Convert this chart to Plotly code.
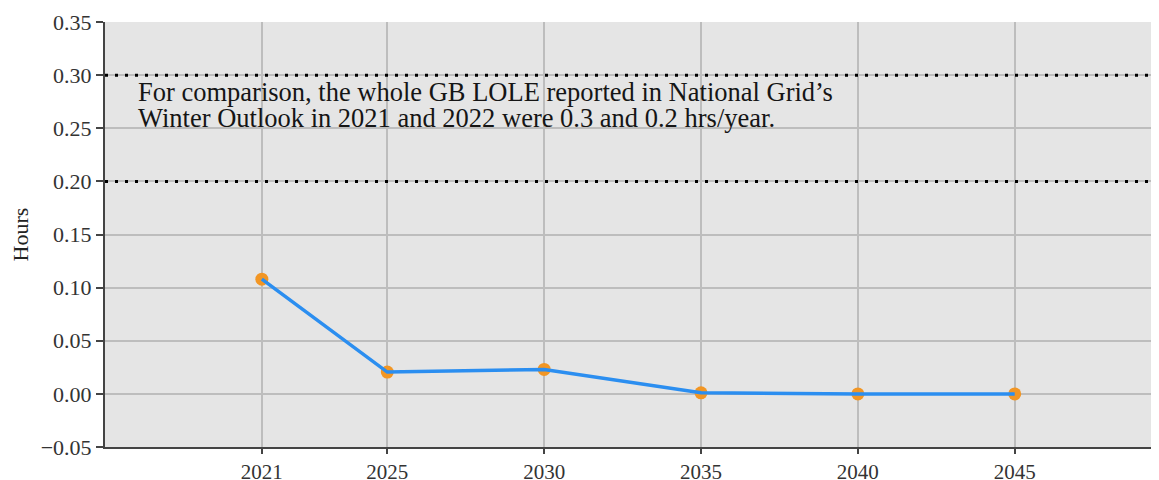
import plotly.graph_objects as go

years = [2021, 2025, 2030, 2035, 2040, 2045]
hours = [0.108, 0.0205, 0.023, 0.001, 0.0, 0.0]
ref_levels = [0.3, 0.2]
y_ticks = [-0.05, 0.0, 0.05, 0.10, 0.15, 0.20, 0.25, 0.30, 0.35]
note_lines = ["For comparison, the whole GB LOLE reported in National Grid\u2019s",
              "Winter Outlook in 2021 and 2022 were 0.3 and 0.2 hrs/year."]
note_y = [0.2841, 0.2596]
x_range = [2016, 2049.6]

FONT = "Liberation Serif"
fig = go.Figure()

for lv in ref_levels:
    fig.add_trace(go.Scatter(x=x_range, y=[lv, lv], mode="lines",
                             line=dict(color="black", width=3, dash="3px,7px"),
                             hoverinfo="skip", showlegend=False))

fig.add_trace(go.Scatter(x=years, y=hours, mode="markers",
                         marker=dict(color="#f29624", size=13),
                         showlegend=False))
fig.add_trace(go.Scatter(x=years, y=hours, mode="lines",
                         line=dict(color="#2b8ef0", width=3.5),
                         showlegend=False))

for txt, yy in zip(note_lines, note_y):
    fig.add_annotation(x=0.0295, y=yy, xref="paper", yref="y", text=txt,
                       showarrow=False, xanchor="left", yanchor="middle", align="left",
                       font=dict(family=FONT, size=26.5, color="#151515"))

# page body has an 8px margin: size the figure to fit the window
fig.update_layout(
    width=1151, height=472,
    margin=dict(l=97, r=0, t=14, b=33),
    paper_bgcolor="white", plot_bgcolor="#e5e5e5",
    font=dict(family=FONT, size=22, color="#333"),
    showlegend=False,
)
fig.update_xaxes(range=x_range, tickvals=years, ticktext=[str(y) for y in years],
                 automargin=False,
                 showgrid=True, gridcolor="#bdbdbd", gridwidth=1.5,
                 showline=True, linecolor="#444", linewidth=2,
                 ticks="outside", ticklen=5, tickcolor="#444", tickwidth=1.5,
                 zeroline=False, tickfont=dict(family=FONT, size=21, color="#333"))
fig.update_yaxes(range=[-0.05, 0.35], tickvals=y_ticks, tickformat=".2f",
                 automargin=False,
                 showgrid=True, gridcolor="#bdbdbd", gridwidth=1.5,
                 showline=True, linecolor="#444", linewidth=2,
                 ticks="outside", ticklen=7, tickcolor="#444", tickwidth=1.5,
                 zeroline=False, tickfont=dict(family=FONT, size=22, color="#333"),
                 title=dict(text="Hours", font=dict(family=FONT, size=22, color="#222"), standoff=10))

fig.write_html("out.html")
